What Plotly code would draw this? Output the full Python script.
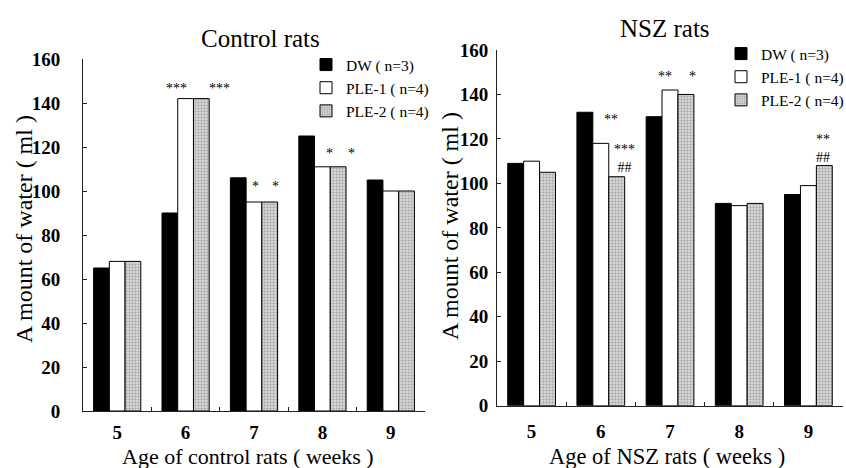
import plotly.graph_objects as go

weeks = ["5", "6", "7", "8", "9"]
series_names = ["DW ( n=3)", "PLE-1 ( n=4)", "PLE-2 ( n=4)"]

control_dw = [65, 90, 106, 125, 105]
control_ple1 = [68, 142, 95, 111, 100]
control_ple2 = [68, 142, 95, 111, 100]

nsz_dw = [109, 132, 130, 91, 95]
nsz_ple1 = [110, 118, 142, 90, 99]
nsz_ple2 = [105, 103, 140, 91, 108]

y_ticks = [0, 20, 40, 60, 80, 100, 120, 140, 160]

# significance marks: (week index, offset in category units, value level, text)
control_marks = [(1, -0.13, 148, "***"), (1, 0.50, 148, "***"),
                 (2, 0.02, 103.5, "*"), (2, 0.32, 103.5, "*"),
                 (3, 0.11, 118.5, "*"), (3, 0.42, 118.5, "*")]
nsz_marks = [(1, 0.15, 130, "**"), (1, 0.34, 112.5, "***<br>##"),
             (2, -0.07, 149.4, "**"), (2, 0.32, 149.4, "*"),
             (4, 0.21, 117, "**<br>##")]

FONT = "Liberation Serif"

styles = [
    dict(marker=dict(color="black", line=dict(color="black", width=1))),
    dict(marker=dict(color="white", line=dict(color="black", width=1))),
    dict(marker=dict(color="#c8c8c8", line=dict(color="black", width=1),
                     pattern=dict(shape=".", fgcolor="#6a6a6a", bgcolor="#d6d6d6",
                                  size=3, solidity=0.35))),
]

fig = go.Figure()
for name, vals, st in zip(series_names, [control_dw, control_ple1, control_ple2], styles):
    fig.add_trace(go.Bar(x=weeks, y=vals, name=name, xaxis="x", yaxis="y",
                         legend="legend", **st))
for name, vals, st in zip(series_names, [nsz_dw, nsz_ple1, nsz_ple2], styles):
    fig.add_trace(go.Bar(x=weeks, y=vals, name=name, xaxis="x2", yaxis="y2",
                         legend="legend2", **st))

axis_common = dict(showline=True, linecolor="#222", linewidth=1, showgrid=False,
                   zeroline=False, ticks="inside", ticklen=4, tickcolor="#222",
                   automargin=False,
                   tickfont=dict(family=FONT, size=19, color="black", weight="bold"))

fig.update_layout(
    width=846, height=468,
    margin=dict(l=0, r=0, t=0, b=0, autoexpand=False),
    paper_bgcolor="white", plot_bgcolor="white",
    barmode="group", bargap=0.31, bargroupgap=0,
    font=dict(family=FONT, color="black"),
    xaxis=dict(domain=[83/846, 425/846], anchor="y", type="category",
               tickson="boundaries", ticklabelstandoff=4, **axis_common),
    yaxis=dict(domain=[1-411/468, 1-59/468], anchor="x", range=[0, 160],
               tickvals=y_ticks, ticklabelstandoff=18, **axis_common),
    xaxis2=dict(domain=[497/846, 843/846], anchor="y2", type="category",
                tickson="boundaries", ticklabelstandoff=8, **axis_common),
    yaxis2=dict(domain=[1-405.7/468, 1-50/468], anchor="x2", range=[0, 160],
                tickvals=y_ticks, ticklabelstandoff=4, **axis_common),
    legend=dict(x=306/846, y=1-48/468, xanchor="left", yanchor="top",
                font=dict(family=FONT, size=15.5, color="black"),
                bgcolor="rgba(0,0,0,0)", tracegroupgap=0),
    legend2=dict(x=721/846, y=1-37/468, xanchor="left", yanchor="top",
                 font=dict(family=FONT, size=15.5, color="black"),
                 bgcolor="rgba(0,0,0,0)", tracegroupgap=0),
)

ann = []
def paper_text(text, x, y, size, angle=0):
    ann.append(dict(text=text, x=x, y=y, xref="paper", yref="paper",
                    showarrow=False, textangle=angle, xanchor="center", yanchor="middle",
                    font=dict(family=FONT, size=size, color="black")))

paper_text("Control rats", 260/846, 1-38/468, 25)
paper_text("NSZ rats", 665/846, 1-28/468, 25)
paper_text("Age of control rats ( weeks )", 248/846, 1-456/468, 22)
paper_text("Age of NSZ rats ( weeks )", 667/846, 1-456/468, 22.5)
paper_text("A mount of water ( ml )", 24/846, 1-229/468, 24, -90)
paper_text("A mount of water ( ml )", 450/846, 1-226/468, 24, -90)

for xr, yr, marks in [("x", "y", control_marks), ("x2", "y2", nsz_marks)]:
    for idx, off, lvl, txt in marks:
        ann.append(dict(text=txt, x=idx + off, y=lvl, xref=xr, yref=yr, showarrow=False,
                        xanchor="center", yanchor="middle", yshift=-3,
                        font=dict(family=FONT, size=14, color="black")))

fig.update_layout(annotations=ann)
fig.write_html("out.html", config={"displayModeBar": False},
               post_script="document.body.style.margin='0';document.body.style.overflow='hidden';")
